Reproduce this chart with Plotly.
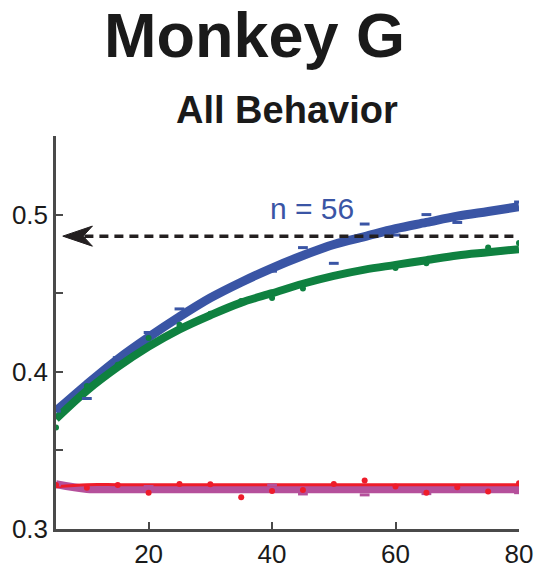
import plotly.graph_objects as go

# ---- data ----
x_vals = [5, 10, 15, 20, 25, 30, 35, 40, 45, 50, 55, 60, 65, 70, 75, 80]

blue_pts = [0.375, 0.383, 0.409, 0.425, 0.440, 0.447, 0.457, 0.464, 0.479, 0.469,
            0.494, 0.487, 0.500, 0.495, 0.502, 0.508]
green_pts = [0.3645, 0.391, 0.4045, 0.4215, 0.430, 0.437, 0.445, 0.447, 0.453, 0.461,
             0.465, 0.466, 0.469, 0.474, 0.479, 0.482]
red_pts = [0.328, 0.3263, 0.328, 0.3231, 0.3287, 0.3285, 0.3202, 0.3242, 0.3248, 0.3287,
           0.3308, 0.327, 0.3231, 0.3265, 0.3238, 0.3291]
purple_pts = [0.328, 0.3255, 0.3255, 0.327, 0.325, 0.325, 0.325, 0.328, 0.3223, 0.325,
              0.3217, 0.3255, 0.3225, 0.325, 0.325, 0.3231]

blue_fit = [0.375, 0.392, 0.408, 0.422, 0.435, 0.447, 0.457, 0.466, 0.474, 0.481,
            0.486, 0.491, 0.495, 0.499, 0.502, 0.505]
green_fit = [0.370, 0.388, 0.403, 0.416, 0.427, 0.436, 0.444, 0.450, 0.456, 0.461,
             0.465, 0.468, 0.471, 0.474, 0.476, 0.478]
red_fit = [0.3268, 0.3282, 0.3282, 0.3282, 0.3282, 0.3282, 0.3282, 0.3282, 0.3282, 0.3282,
           0.3282, 0.3282, 0.3282, 0.3282, 0.3282, 0.3282]
purple_fit = [0.3285, 0.3255, 0.3253, 0.3253, 0.3253, 0.3253, 0.3253, 0.3253, 0.3253, 0.3253,
              0.3253, 0.3253, 0.3253, 0.3253, 0.3253, 0.3253]

# reference level (dashed line with arrowhead pointing to the y axis)
ref_level = 0.4863
ref_x_start = 9.6
ref_x_end = 80
arrow_tip_x = 6.1
arrow_back_x = 10.9
arrow_notch_x = 9.4
arrow_half_h = 0.0064

n_label = "n = 56"
n_label_pos = (46.4, 0.5038)

y_tickvals = [0.30, 0.35, 0.40, 0.45, 0.50, 0.55]
y_ticktext = ["0.3", "", "0.4", "", "0.5", ""]
x_tickvals = [20, 40, 60, 80]
x_ticktext = ["20", "40", "60", "80"]

BLUE = "#3A55A5"
GREEN = "#0F8140"
RED = "#EE1C2A"
PURPLE = "#B5509B"
AX = "#4A4A4A"
BLACK = "#231F20"
FONT = "Liberation Sans, Arial, Helvetica, sans-serif"

fig = go.Figure()

# fits
fig.add_trace(go.Scatter(x=x_vals, y=purple_fit, mode="lines", line=dict(color=PURPLE, width=8, shape="spline")))
fig.add_trace(go.Scatter(x=x_vals, y=red_fit, mode="lines", line=dict(color=RED, width=3, shape="spline")))
fig.add_trace(go.Scatter(x=x_vals, y=blue_fit, mode="lines", line=dict(color=BLUE, width=9, shape="spline")))
fig.add_trace(go.Scatter(x=x_vals, y=green_fit, mode="lines", line=dict(color=GREEN, width=8, shape="spline")))

# points
fig.add_trace(go.Scatter(x=x_vals, y=purple_pts, mode="markers",
                         marker=dict(symbol="line-ew", size=7, line=dict(color=PURPLE, width=3))))
fig.add_trace(go.Scatter(x=x_vals, y=red_pts, mode="markers",
                         marker=dict(symbol="circle", size=6, color=RED)))
fig.add_trace(go.Scatter(x=x_vals, y=blue_pts, mode="markers",
                         marker=dict(symbol="line-ew", size=7, line=dict(color=BLUE, width=3))))
fig.add_trace(go.Scatter(x=x_vals, y=green_pts, mode="markers",
                         marker=dict(symbol="circle", size=6, color=GREEN)))

# reference dashed line
fig.add_trace(go.Scatter(x=[ref_x_start, ref_x_end], y=[ref_level, ref_level], mode="lines",
                         line=dict(color=BLACK, width=3.5, dash="9px,6px")))
# arrowhead (notched, filled)
fig.add_trace(go.Scatter(
    x=[arrow_tip_x, arrow_back_x, arrow_notch_x, arrow_back_x, arrow_tip_x],
    y=[ref_level, ref_level + arrow_half_h, ref_level, ref_level - arrow_half_h, ref_level],
    mode="lines", fill="toself", fillcolor=BLACK, line=dict(color=BLACK, width=1)))

fig.add_annotation(x=n_label_pos[0], y=n_label_pos[1], xref="x", yref="y",
                   text=n_label, showarrow=False,
                   font=dict(family=FONT, size=30, color=BLUE))

fig.add_annotation(x=0.428, y=1.258, xref="paper", yref="paper", xanchor="center", yanchor="middle",
                   text="<b>Monkey G</b>", showarrow=False,
                   font=dict(family=FONT, size=63, color="#1a1a1a"))
fig.add_annotation(x=0.499, y=1.066, xref="paper", yref="paper", xanchor="center", yanchor="middle",
                   text="<b>All Behavior</b>", showarrow=False,
                   font=dict(family=FONT, size=38, color="#1a1a1a"))

fig.update_layout(
    width=539, height=569,
    margin=dict(l=56, r=20, t=136, b=40),
    paper_bgcolor="white", plot_bgcolor="white",
    showlegend=False,
    font=dict(family=FONT, size=26, color="#1a1a1a"),
)
fig.update_xaxes(range=[5, 80], tickvals=x_tickvals, ticktext=x_ticktext, automargin=False,
                 showgrid=False, zeroline=False, showline=True, linecolor=AX, linewidth=2.5,
                 ticks="inside", ticklen=7, tickwidth=2, tickcolor=AX,
                 tickfont=dict(size=26, family=FONT, color="#1a1a1a"))
fig.update_yaxes(range=[0.3, 0.55], tickvals=y_tickvals, ticktext=y_ticktext, automargin=False,
                 showgrid=False, zeroline=False, showline=True, linecolor=AX, linewidth=2.5,
                 ticks="inside", ticklen=7, tickwidth=2, tickcolor=AX,
                 tickfont=dict(size=26, family=FONT, color="#1a1a1a"))

fig.write_html("out.html")
